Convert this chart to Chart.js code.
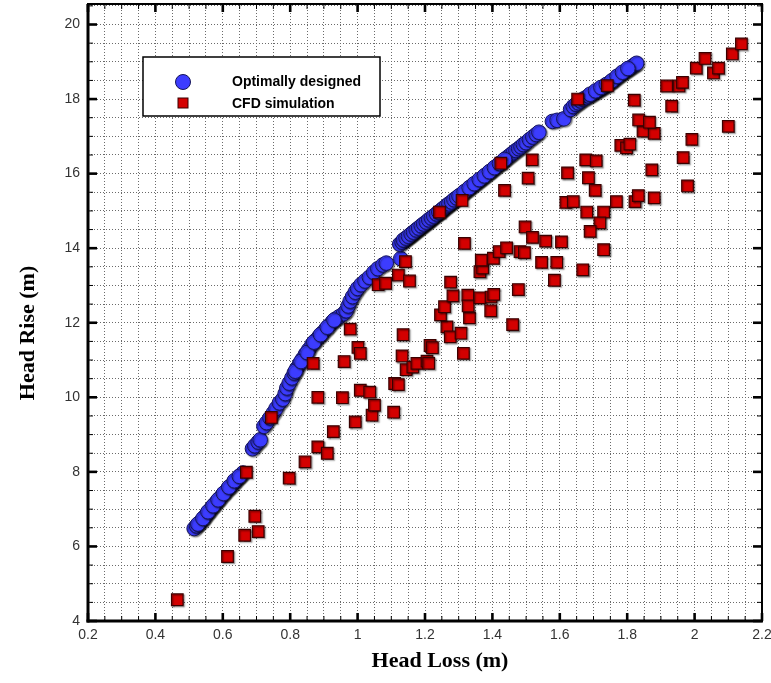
<!DOCTYPE html>
<html><head><meta charset="utf-8">
<script src="https://cdn.jsdelivr.net/npm/chart.js@4.4.1/dist/chart.umd.min.js"></script>
<style>html,body{margin:0;padding:0;background:#fff}#wrap{width:771px;height:683px;position:relative}</style>
</head><body><div id="wrap"><canvas id="c" width="771" height="683"></canvas></div>
<script>
const seriesNames = ['Optimally designed', 'CFD simulation'];
const axisTitles = ['Head Loss (m)', 'Head Rise (m)'];
const xTickLabels = ['0.2','0.4','0.6','0.8','1','1.2','1.4','1.6','1.8','2','2.2'];
const yTickLabels = ['4','6','8','10','12','14','16','18','20'];

const optimalX = [
 0.515,0.522,0.530,0.538,0.545,0.552,0.560,0.567,0.575,0.582,0.590,0.598,0.606,0.614,0.622,0.630,0.638,0.645,0.652,0.660,
 0.526,0.541,0.556,0.571,0.586,0.602,0.618,0.634,0.649,
 0.688,0.695,0.705,0.711,
 0.722,0.730,0.740,0.750,0.758,0.768,0.778,0.785,0.790,0.797,0.805,0.812,0.820,0.828,0.836,0.845,0.855,0.865,0.875,0.885,0.895,0.905,0.915,0.925,0.935,0.945,0.958,0.966,0.972,0.978,0.985,0.993,1.000,1.010,1.022,1.035,1.048,1.060,1.075,1.085,
 0.815,0.832,0.850,0.870,0.890,0.910,0.930,
 1.128,
 1.125,1.132,1.140,1.148,1.155,1.162,1.170,1.178,1.185,1.192,1.200,1.208,1.215,1.222,1.230,1.238,1.245,1.252,1.260,1.268,1.275,1.282,1.290,1.298,1.305,1.312,1.320,1.328,1.335,1.342,1.350,1.358,1.365,1.372,1.380,1.388,1.395,1.402,1.410,1.418,1.425,1.432,1.440,1.448,1.455,1.462,1.470,1.478,1.485,1.492,1.500,1.510,1.520,1.530,1.538,
 1.136,1.144,1.151,1.159,1.166,1.174,1.181,1.189,1.196,1.204,1.211,1.219,1.226,1.234,1.241,1.249,1.256,1.264,1.271,1.279,1.286,1.294,1.301,1.316,1.331,1.346,1.361,1.376,1.391,1.406,1.421,1.436,
 1.578,1.592,1.612,
 1.632,1.640,1.648,1.655,1.662,1.670,1.678,1.686,1.694,1.702,1.710,1.718,1.726,1.734,1.742,1.750,1.758,1.766,1.774,1.782,1.790,1.798,1.806,1.814,1.822,1.828,
 1.690,1.706,1.722,1.738,1.754,1.770,1.786,1.802
];
const optimalY = [
 6.48,6.55,6.62,6.70,6.78,6.86,6.95,7.04,7.12,7.20,7.28,7.37,7.45,7.53,7.60,7.68,7.76,7.84,7.90,7.97,
 6.60,6.75,6.93,7.09,7.25,7.42,7.59,7.76,7.88,
 8.62,8.70,8.80,8.86,
 9.22,9.32,9.45,9.58,9.70,9.85,9.95,10.10,10.25,10.38,10.52,10.65,10.78,10.90,11.02,11.15,11.28,11.42,11.52,11.62,11.72,11.82,11.92,12.02,12.10,12.16,12.24,12.32,12.45,12.58,12.70,12.82,12.92,13.02,13.12,13.22,13.35,13.45,13.55,13.60,
 10.70,10.96,11.20,11.48,11.68,11.88,12.07,
 13.72,
 14.11,14.16,14.22,14.28,14.33,14.38,14.44,14.50,14.55,14.60,14.66,14.71,14.76,14.82,14.87,14.93,14.98,15.03,15.09,15.15,15.20,15.25,15.31,15.37,15.42,15.47,15.53,15.58,15.64,15.69,15.74,15.80,15.85,15.90,15.96,16.02,16.07,16.12,16.18,16.24,16.29,16.34,16.40,16.46,16.51,16.56,16.62,16.67,16.72,16.78,16.83,16.91,16.98,17.05,17.11,
 14.22,14.27,14.32,14.38,14.43,14.49,14.54,14.60,14.65,14.70,14.76,14.81,14.86,14.92,14.97,15.03,15.08,15.14,15.19,15.24,15.30,15.35,15.40,15.51,15.62,15.73,15.84,15.94,16.05,16.16,16.27,16.38,
 17.40,17.43,17.47,
 17.72,17.80,17.86,17.90,17.95,18.00,18.04,18.08,18.12,18.17,18.21,18.26,18.30,18.35,18.40,18.45,18.50,18.56,18.62,18.67,18.72,18.77,18.82,18.87,18.92,18.96,
 18.13,18.22,18.31,18.39,18.49,18.61,18.72,18.82
];

const cfdX = [
 0.465,0.614,0.665,0.705,0.695,0.670,0.797,0.844,0.882,0.910,0.928,0.993,1.043,1.050,1.107,0.744,0.882,0.955,1.008,1.036,
 1.110,1.121,0.868,0.960,1.001,1.008,0.978,1.135,1.132,1.144,1.164,1.176,1.206,1.211,1.215,1.222,1.265,1.275,1.307,1.314,
 1.332,1.246,1.258,1.283,1.276,1.327,1.328,1.363,1.396,1.404,1.395,1.460,1.477,1.363,1.371,1.367,1.403,1.420,1.442,1.482,
 1.495,1.497,1.519,1.558,1.605,1.546,1.591,1.584,1.668,1.317,1.142,1.121,1.154,1.061,1.083,1.243,1.310,1.436,1.425,1.506,
 1.518,1.618,1.640,1.680,1.730,1.719,1.690,1.730,1.768,1.823,1.833,1.880,1.623,1.685,1.705,1.677,1.708,1.781,1.798,1.808,
 1.873,1.979,1.966,1.992,1.847,1.880,1.834,1.866,2.100,1.821,1.932,1.653,1.741,1.917,1.954,1.964,2.005,2.031,2.056,2.071,
 2.112,2.139
];
const cfdY = [
 4.57,5.73,6.30,6.40,6.81,7.99,7.83,8.27,8.67,8.50,9.08,9.34,9.52,9.79,9.60,9.46,10.00,9.99,10.19,10.14,
 10.37,10.34,10.91,10.96,11.34,11.18,11.83,11.68,11.11,10.74,10.81,10.91,10.97,10.91,11.39,11.33,11.89,11.62,11.72,11.18,
 12.13,12.21,12.43,12.72,13.09,12.74,12.45,12.67,12.69,12.76,12.32,11.95,12.89,13.37,13.47,13.68,13.73,13.91,14.01,13.91,
 13.88,14.57,14.29,14.19,14.17,13.62,13.62,13.14,13.42,14.13,13.64,13.28,13.12,13.02,13.06,14.97,15.28,15.55,16.28,15.88,
 16.37,15.23,15.25,14.97,14.97,14.68,14.45,13.96,15.25,15.25,15.41,15.35,16.02,15.89,15.55,16.37,16.34,16.76,16.69,16.79,
 16.10,15.67,16.43,16.92,17.14,17.08,17.44,17.38,17.27,17.97,17.81,18.00,18.36,18.35,18.35,18.45,18.83,19.09,18.70,18.83,
 19.21,19.48
];

const near = (a, b) => Math.abs(a - b) < 1e-6;
const xLabelFor = v => { const l = xTickLabels.find(s => near(Number(s), v)); return l === undefined ? '' : l; };
const yLabelFor = v => { const l = yTickLabels.find(s => near(Number(s), v)); return l === undefined ? '' : l; };

const BLUE = '#3c3cff', BLUE_EDGE = '#14145a';
const RED = '#d40000', RED_EDGE = '#3a0000';

const shadowPlugin = {
  id: 'shadow',
  beforeDatasetDraw(chart) {
    const ctx = chart.ctx; ctx.save();
    ctx.shadowColor = 'rgba(0,0,0,0.45)';
    ctx.shadowOffsetX = 1.2; ctx.shadowOffsetY = 1.2; ctx.shadowBlur = 1.5;
  },
  afterDatasetDraw(chart) { chart.ctx.restore(); }
};

const framePlugin = {
  id: 'frame',
  afterDraw(chart) {
    const {ctx, chartArea: a, scales: {x, y}} = chart;
    ctx.save();
    ctx.strokeStyle = '#000';
    const seg = (x1, y1, x2, y2) => { ctx.beginPath(); ctx.moveTo(x1, y1); ctx.lineTo(x2, y2); ctx.stroke(); };
    for (const t of x.ticks) {
      const px = x.getPixelForValue(t.value);
      const major = xLabelFor(t.value) !== '';
      ctx.lineWidth = major ? 2.6 : 1;
      const len = major ? 8 : 5;
      seg(px, a.bottom, px, a.bottom - len);
      seg(px, a.top, px, a.top + len);
    }
    for (const t of y.ticks) {
      const py = y.getPixelForValue(t.value);
      const major = yLabelFor(t.value) !== '';
      ctx.lineWidth = major ? 2.6 : 1;
      const len = major ? 9 : 5;
      seg(a.left, py, a.left + len, py);
      seg(a.right, py, a.right - len, py);
    }
    ctx.lineWidth = 2;
    ctx.strokeRect(a.left, a.top, a.right - a.left, a.bottom - a.top);
    ctx.lineWidth = 3;
    seg(a.left, a.top, a.left, a.bottom + 1.5);
    seg(a.left - 1.5, a.bottom, a.right + 1, a.bottom);
    ctx.fillStyle = '#000';
    ctx.font = 'bold 22px "Liberation Serif", "Times New Roman", serif';
    ctx.textAlign = 'center'; ctx.textBaseline = 'middle';
    ctx.fillText(axisTitles[0], 440, 661);
    ctx.translate(28, 333); ctx.rotate(-Math.PI / 2);
    ctx.fillText(axisTitles[1], 0, 0);
    ctx.restore();
  }
};

const legendPlugin = {
  id: 'boxLegend',
  afterDatasetsDraw(chart) {
    const ctx = chart.ctx;
    ctx.save();
    ctx.fillStyle = '#fff';
    ctx.fillRect(143, 57, 237, 59);
    ctx.strokeStyle = '#000'; ctx.lineWidth = 1.5;
    ctx.strokeRect(143, 57, 237, 59);
    const ds = chart.data.datasets;
    ctx.beginPath(); ctx.arc(183, 82, 7.5, 0, Math.PI * 2);
    ctx.fillStyle = ds[0].backgroundColor; ctx.fill();
    ctx.lineWidth = 1; ctx.strokeStyle = ds[0].borderColor; ctx.stroke();
    ctx.fillStyle = ds[1].backgroundColor;
    ctx.fillRect(178, 98, 10, 10);
    ctx.strokeStyle = ds[1].borderColor; ctx.strokeRect(178, 98, 10, 10);
    ctx.fillStyle = '#000';
    ctx.font = 'bold 14px "Liberation Sans", Arial, sans-serif';
    ctx.textAlign = 'left'; ctx.textBaseline = 'middle';
    ctx.fillText(seriesNames[0], 232, 82);
    ctx.fillText(seriesNames[1], 232, 104);
    ctx.restore();
  }
};

new Chart(document.getElementById('c'), {
  type: 'scatter',
  data: {
    datasets: [
      { label: seriesNames[0], data: optimalX.map((v, i) => ({x: v, y: optimalY[i]})),
        pointStyle: 'circle', pointRadius: 7.3, backgroundColor: BLUE, borderColor: BLUE_EDGE, borderWidth: 1, order: 2 },
      { label: seriesNames[1], data: cfdX.map((v, i) => ({x: v, y: cfdY[i]})),
        pointStyle: 'rect', pointRadius: 8.2, backgroundColor: RED, borderColor: RED_EDGE, borderWidth: 1.2, order: 1 }
    ]
  },
  options: {
    responsive: false, animation: false, devicePixelRatio: 1,
    layout: { autoPadding: false, padding: { top: 4, right: 9, left: 0, bottom: 0 } },
    plugins: { legend: { display: false }, tooltip: { enabled: false } },
    scales: {
      x: {
        type: 'linear', min: 0.2, max: 2.2,
        afterFit: s => { s.height = 62; s.paddingLeft = 0; s.paddingRight = 0; },
        ticks: { stepSize: 0.05, autoSkip: false, maxRotation: 0, includeBounds: false, padding: 6,
          color: '#333', font: { family: '"Liberation Sans", Arial, sans-serif', size: 14 }, callback: v => xLabelFor(v) },
        grid: { color: '#6a6a6a', lineWidth: 1, drawTicks: false },
        border: { display: false, dash: [1, 2] }
      },
      y: {
        type: 'linear', min: 4, max: 20.55,
        afterFit: s => { s.width = 88; s.paddingTop = 0; s.paddingBottom = 0; },
        ticks: { stepSize: 0.5, autoSkip: false, includeBounds: false, padding: 8,
          color: '#333', font: { family: '"Liberation Sans", Arial, sans-serif', size: 14 }, callback: v => yLabelFor(v) },
        grid: { color: '#6a6a6a', lineWidth: 1, drawTicks: false },
        border: { display: false, dash: [1, 2] }
      }
    }
  },
  plugins: [shadowPlugin, framePlugin, legendPlugin]
});
</script>
</body></html>
